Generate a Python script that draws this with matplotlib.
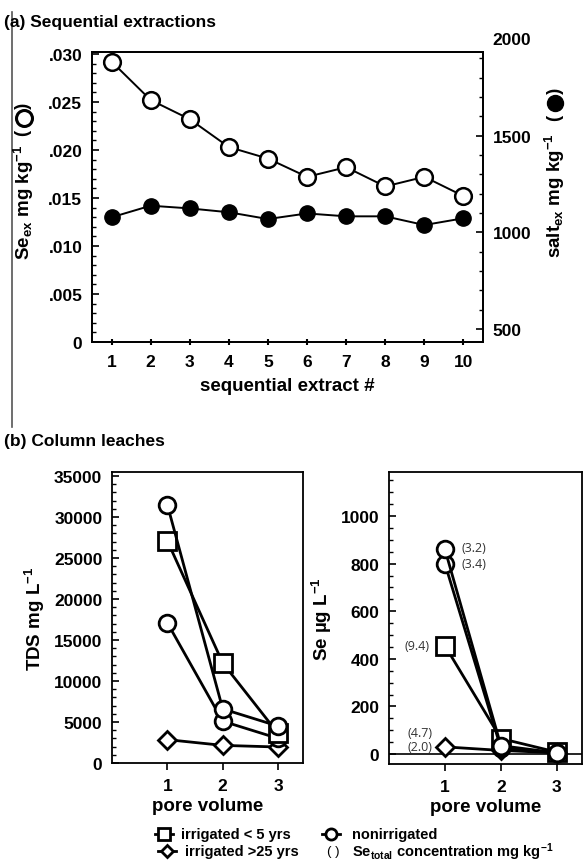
import matplotlib
matplotlib.use("Agg")
import matplotlib.pyplot as plt
from matplotlib.lines import Line2D
from matplotlib.ticker import MultipleLocator, FuncFormatter
from matplotlib.transforms import blended_transform_factory

plt.rcParams["font.family"] = ["Liberation Sans", "DejaVu Sans"]
plt.rcParams["font.weight"] = "bold"
plt.rcParams["axes.labelweight"] = "bold"
plt.rcParams["mathtext.fontset"] = "custom"
plt.rcParams["mathtext.rm"] = "Liberation Sans:bold"
plt.rcParams["mathtext.bf"] = "Liberation Sans:bold"
plt.rcParams["mathtext.default"] = "rm"

W, H = 584, 862

# --- data, panel (a) ---
extract = list(range(1, 11))
se_ex = [0.0292, 0.0252, 0.0232, 0.0203, 0.0191, 0.0172, 0.0182, 0.0162, 0.0172, 0.0152]
salt_ex = [1078, 1138, 1124, 1104, 1069, 1098, 1083, 1083, 1038, 1073]
salt_ticks = [500, 1000, 1500, 2000]

# --- data, panel (b) ---
pore = [1, 2, 3]
tds_nonirr_a = [31500, 6600, 4500]
tds_nonirr_b = [17100, 5100, 3000]
tds_irr5 = [27100, 12200, 3600]
tds_irr25 = [2850, 2150, 1950]
se_nonirr_a = [860, 35, 5]
se_nonirr_b = [800, 25, 5]
se_irr5 = [455, 65, 8]
se_irr25 = [30, 15, 5]
se_total_labels = ["(3.2)", "(3.4)", "(9.4)", "(4.7)", "(2.0)"]


def fx(x):
    return x / W


def fy(y):
    return 1 - y / H


def box(l, t, r, b):
    return [l / W, 1 - b / H, (r - l) / W, (b - t) / H]


fig = plt.figure(figsize=(W / 100, H / 100), dpi=100)

# left margin rule
fig.add_artist(Line2D([fx(12), fx(12)], [fy(13), fy(428)], color="#555555", lw=1.2))

fig.text(fx(4), fy(22), "(a) Sequential extractions", fontsize=12.5, ha="left", va="center")
fig.text(fx(4), fy(442), "(b) Column leaches", fontsize=12.5, ha="left", va="center")

# ---------------- panel (a) ----------------
ax = fig.add_axes(box(92, 53, 483, 343))
ax2 = ax.twinx()
ax.plot(extract, se_ex, "-o", color="k", mfc="white", mec="k", ms=12, mew=1.8, lw=1.4, zorder=3)
ax2.plot(extract, salt_ex, "-o", color="k", ms=11, lw=1.4)
ax.set_xticks(extract)
ax.yaxis.set_major_locator(MultipleLocator(0.005))
ax.yaxis.set_minor_locator(MultipleLocator(0.001))
ax.yaxis.set_major_formatter(FuncFormatter(lambda v, p: "0" if abs(v) < 1e-9 else f"{v:.3f}".lstrip("0")))
ax2.set_yticks(salt_ticks)
ax2.yaxis.set_minor_locator(MultipleLocator(100))
ax.set_xlim(0.5, 10.5)
ax.set_ylim(0, 0.0302)
ax2.set_ylim(433, 1933)
ax.tick_params(axis="y", which="major", direction="in", length=5, width=1.2, labelsize=12.5, pad=7)
ax.tick_params(axis="y", which="minor", direction="in", length=3, width=1)
ax.tick_params(axis="x", direction="inout", length=5, width=1.5, labelsize=12.5, pad=6)
ax2.tick_params(axis="y", which="major", direction="in", length=5, width=1.2, labelsize=12.5, pad=7)
ax2.tick_params(axis="y", which="minor", direction="in", length=3, width=1)
for a in (ax, ax2):
    for s in a.spines.values():
        s.set_linewidth(1.3)
# 2000 label sits above the frame in the original
ax2.text(1 + 9 / 391, salt_ticks[-1], str(salt_ticks[-1]), fontsize=12.5, ha="left", va="center",
         transform=blended_transform_factory(ax2.transAxes, ax2.transData), clip_on=False)
ax.set_xlabel("sequential extract #", fontsize=13.5, labelpad=6)

# y labels with the marker symbol drawn as a real marker
fig.text(fx(24), fy(202), "Se$_{ex}$ mg kg$^{-1}$", rotation=90, fontsize=13.5, ha="center", va="center")
fig.text(fx(24), fy(119), "(    )", rotation=90, fontsize=13.5, ha="center", va="center")
fig.add_artist(Line2D([fx(24)], [fy(119)], marker="o", ms=11.5, mfc="white", mec="k", mew=2.2))
fig.text(fx(555), fy(196), "salt$_{ex}$ mg kg$^{-1}$", rotation=90, fontsize=13.5, ha="center", va="center")
fig.text(fx(555), fy(104), "(    )", rotation=90, fontsize=13.5, ha="center", va="center")
fig.add_artist(Line2D([fx(555)], [fy(104)], marker="o", ms=11.5, color="k"))

# ---------------- panel (b) left: TDS ----------------
circ = dict(marker="o", ms=12, mfc="white", mec="k", mew=2)
sq = dict(marker="s", ms=13, mfc="white", mec="k", mew=2)
dia = dict(marker="D", ms=9, mfc="white", mec="k", mew=2)

bl = fig.add_axes(box(112, 473, 303, 764))
bl.plot(pore, tds_irr25, "-", color="k", lw=2, **dia)
bl.plot(pore, tds_nonirr_b, "-", color="k", lw=2, **circ)
bl.plot(pore, tds_irr5, "-", color="k", lw=2, **sq)
bl.plot(pore, tds_nonirr_a, "-", color="k", lw=2, **circ)
bl.set_xticks(pore)
bl.yaxis.set_major_locator(MultipleLocator(5000))
bl.yaxis.set_minor_locator(MultipleLocator(1000))
bl.set_xlim(0, 3.45)
bl.set_ylim(0, 35500)
bl.set_ylabel("TDS mg L$^{-1}$", fontsize=13.5, labelpad=5)
bl.set_xlabel("pore volume", fontsize=13.5, labelpad=3)

# ---------------- panel (b) right: Se ----------------
br = fig.add_axes(box(389, 473, 582, 765))
br.axhline(0, color="k", lw=1.2)
br.plot(pore, se_irr25, "-", color="k", lw=2, **dia)
br.plot(pore, se_irr5, "-", color="k", lw=2, **sq)
br.plot(pore, se_nonirr_b, "-", color="k", lw=2, **circ)
br.plot(pore, se_nonirr_a, "-", color="k", lw=2, **circ)
br.set_xticks(pore)
br.yaxis.set_major_locator(MultipleLocator(200))
br.yaxis.set_minor_locator(MultipleLocator(50))
br.set_xlim(0, 3.45)
br.set_ylim(-42, 1185)
br.set_ylabel("Se \u00b5g L$^{-1}$", fontsize=13.5, labelpad=5)
br.set_xlabel("pore volume", fontsize=13.5, labelpad=3)

for a in (bl, br):
    a.tick_params(axis="y", which="major", direction="in", length=5, width=1.2, labelsize=12.5, pad=7)
    a.tick_params(axis="y", which="minor", direction="in", length=3, width=1)
    a.tick_params(axis="x", direction="out", length=5, width=1.2, labelsize=12.5, pad=6)
    for s in a.spines.values():
        s.set_linewidth(1.3)

# Se_total annotations
ann = dict(fontsize=9, fontweight="normal", family=["Open Sans", "DejaVu Sans"], color="#333333",
           textcoords="offset points", va="center")
br.annotate(se_total_labels[0], (pore[0], se_nonirr_a[0]), xytext=(12, 1), ha="left", **ann)
br.annotate(se_total_labels[1], (pore[0], se_nonirr_b[0]), xytext=(12, 0), ha="left", **ann)
br.annotate(se_total_labels[2], (pore[0], se_irr5[0]), xytext=(-11, 0), ha="right", **ann)
br.annotate(se_total_labels[3], (pore[0], se_irr25[0]), xytext=(-9, 10), ha="right", **ann)
br.annotate(se_total_labels[4], (pore[0], se_irr25[0]), xytext=(-9, 0.5), ha="right", **ann)

# ---------------- legend ----------------
def leg_handle(x, y, style):
    fig.add_artist(Line2D([fx(x - 9), fx(x + 9)], [fy(y), fy(y)], color="k", lw=2))
    fig.add_artist(Line2D([fx(x)], [fy(y)], color="k", **style))


small = dict(ms=8, mfc="white", mec="k", mew=2)
leg_handle(164, 835, dict(marker="s", **small))
leg_handle(167, 852, dict(marker="D", ms=6, mfc="white", mec="k", mew=2))
leg_handle(331, 835, dict(marker="o", **small))
fig.text(fx(181), fy(835), "irrigated < 5 yrs", fontsize=10.5, ha="left", va="center")
fig.text(fx(185), fy(852), "irrigated >25 yrs", fontsize=10.5, ha="left", va="center")
fig.text(fx(352), fy(835), "nonirrigated", fontsize=10.5, ha="left", va="center")
fig.text(fx(333), fy(852), "( )", fontsize=9.5, fontweight="normal", ha="center", va="center")
fig.text(fx(352), fy(852), "Se$_{total}$ concentration mg kg$^{-1}$", fontsize=10.5, ha="left", va="center")

fig.savefig("out.png", dpi=100)
